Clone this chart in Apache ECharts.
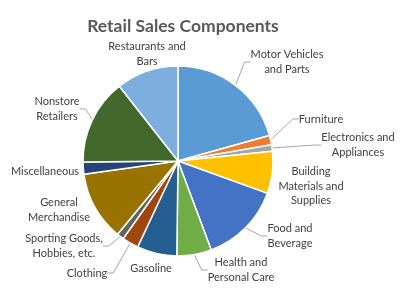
<!DOCTYPE html>
<html>
<head>
<meta charset="utf-8">
<script src="https://cdn.jsdelivr.net/npm/echarts@6/dist/echarts.min.js"></script>
<style>
  html, body { margin: 0; padding: 0; background: #fff; }
  #chart { width: 403px; height: 298px; }
</style>
</head>
<body>
<div id="chart"></div>
<script>
// Retail sales by component, share of total (%)
const categories = [
  'Motor Vehicles\nand Parts',
  'Furniture',
  'Electronics and\nAppliances',
  'Building\nMaterials and\nSupplies',
  'Food and\nBeverage',
  'Health and\nPersonal Care',
  'Gasoline',
  'Clothing',
  'Sporting Goods,\nHobbies, etc.',
  'General\nMerchandise',
  'Miscellaneous',
  'Nonstore\nRetailers',
  'Restaurants and\nBars'
];
const values = [20.7, 1.6, 1.1, 7.2, 13.8, 5.9, 6.8, 2.8, 1.2, 11.8, 2.1, 14.6, 10.6];
const colors = ['#5B9BD5', '#ED7D31', '#A5A5A5', '#FFC000', '#4472C4', '#70AD47',
                '#255E91', '#9E480E', '#636363', '#997300', '#264478', '#43682B', '#7CAFDD'];

// Where each label block sits (centre of the text), and whether it gets a leader line
const labelSpots = [
  [287, 62, true], [321, 119, true], [358, 145, true], [311, 186, false],
  [290, 236, true], [241, 270, true], [151, 268, false], [87, 273, true],
  [64, 246, true], [59, 210, false], [45, 171, false], [57, 109, true],
  [147, 54, false]
];

const chart = echarts.init(document.getElementById('chart'), null, { renderer: 'canvas' });
chart.setOption({
  animation: false,
  color: colors,
  title: {
    text: 'Retail Sales Components',
    left: 178, top: 12, textAlign: 'center',
    textStyle: { fontFamily: 'Lato', fontSize: 17.5, fontWeight: 'bold', color: '#595959' }
  },
  series: [{
    type: 'pie',
    center: [178, 161],
    radius: 95,
    startAngle: 90,
    clockwise: true,
    data: categories.map((name, i) => ({
      name, value: values[i],
      labelLine: { show: labelSpots[i][2] }
    })),
    itemStyle: { borderColor: '#fff', borderWidth: 1.5 },
    label: {
      position: 'outside',
      fontFamily: 'Lato', fontSize: 11, color: '#404040',
      lineHeight: 14.5,
      overflow: 'none'
    },
    labelLine: { length: 8, length2: 6, lineStyle: { color: '#A6A6A6', width: 1 } },
    labelLayout: function (p) {
      const s = labelSpots[p.dataIndex];
      return { x: s[0], y: s[1], align: 'center', verticalAlign: 'middle', hideOverlap: false };
    }
  }]
});
</script>
</body>
</html>
